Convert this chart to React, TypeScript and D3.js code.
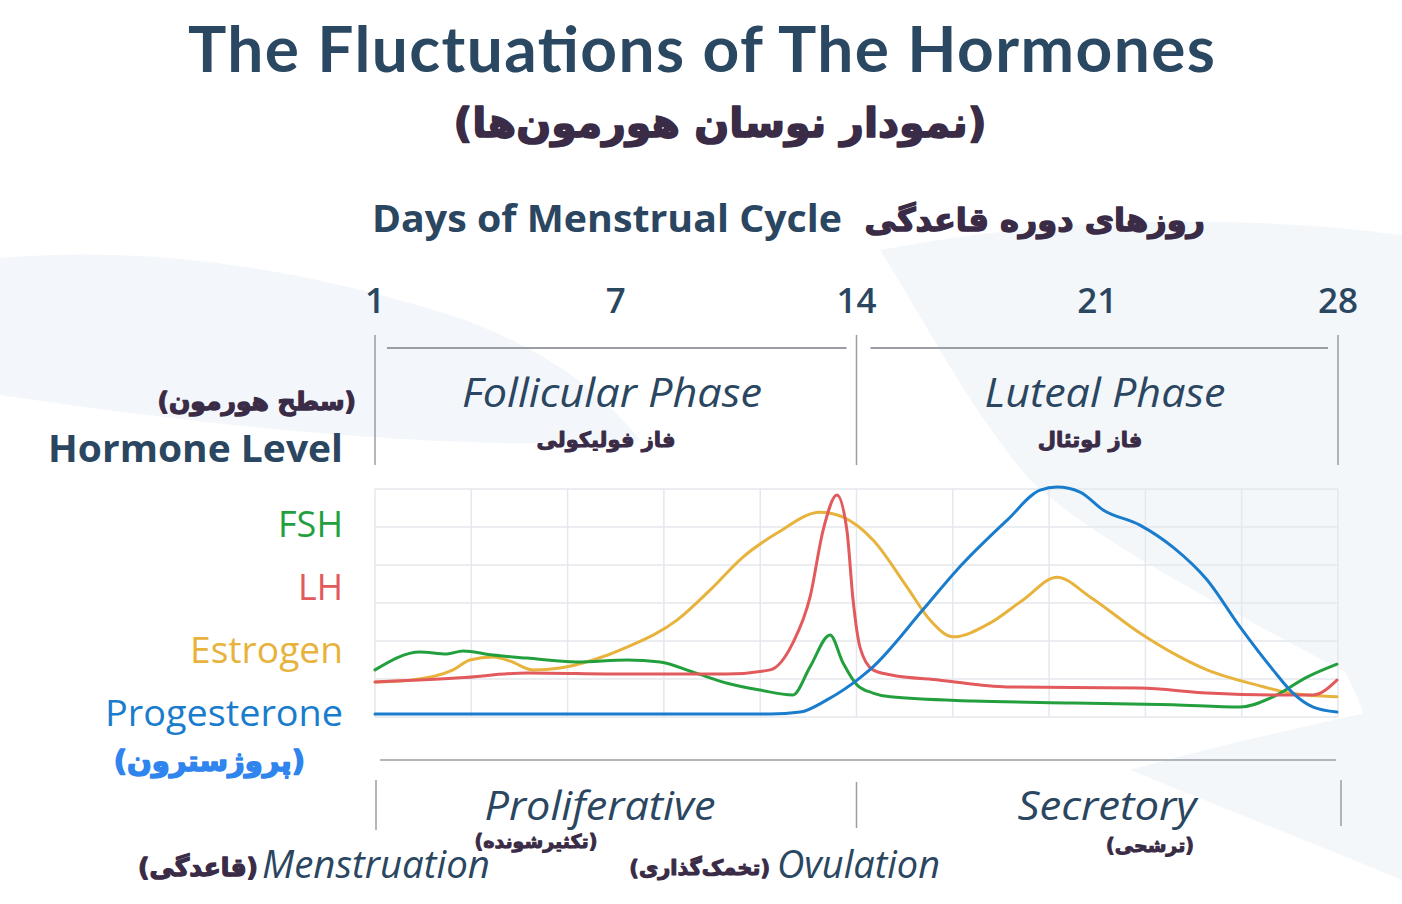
import React from "react";
import * as d3 from "d3";

// ---- data ----
const dayTicks = [0, 7, 14, 21, 28];
const dayTickLabels = ["1", "7", "14", "21", "28"];
const gridCols = 10;
const levelTicks = [0, 1, 2, 3, 4, 5, 6];

// [day, level] pairs
const progesterone: [number, number][] = [
  [0, 0.08], [11.5, 0.08], [12.36, 0.13], [13.14, 0.45], [14.1, 1.03], [14.48, 1.32],
  [15.93, 2.82], [16.92, 3.87], [18.38, 5.18], [19.34, 5.97], [19.83, 6.05], [20.5, 5.92],
  [21.17, 5.45], [22.24, 5.05], [23.2, 4.47], [24.19, 3.61], [25.15, 2.37], [26.11, 1.24],
  [26.69, 0.63], [27.28, 0.26], [27.97, 0.13],
];
const estrogen: [number, number][] = [
  [0, 0.92], [1.02, 0.97], [2.27, 1.24], [2.76, 1.5], [3.43, 1.58], [3.93, 1.47],
  [4.59, 1.24], [5.38, 1.29], [6.34, 1.5], [7.33, 1.84], [8.78, 2.55], [9.74, 3.34],
  [10.7, 4.21], [11.69, 4.84], [12.94, 5.39], [13.61, 5.26], [14.48, 4.66], [15.47, 3.42],
  [16.14, 2.55], [16.81, 2.11], [17.88, 2.47], [18.84, 3.08], [19.83, 3.68], [20.79, 3.16],
  [22.24, 2.21], [23.2, 1.68], [24.19, 1.24], [25.65, 0.84], [26.61, 0.63], [27.97, 0.53],
];
const lh: [number, number][] = [
  [0, 0.92], [2.47, 1.03], [4.42, 1.16], [7.33, 1.13], [10.24, 1.13], [11.49, 1.24],
  [12.15, 1.95], [12.65, 3.16], [13.03, 4.92], [13.43, 5.84], [13.72, 4.92], [13.9, 3.08],
  [14.1, 1.84], [14.48, 1.24], [14.98, 1.11], [16.43, 0.97], [18.38, 0.79], [22.24, 0.76],
  [24.19, 0.63], [26.11, 0.58], [27.28, 0.58], [27.97, 0.97],
];
const fsh: [number, number][] = [
  [0, 1.24], [1.31, 1.71], [2.09, 1.66], [2.56, 1.74], [3.43, 1.63], [4.42, 1.55],
  [5.87, 1.45], [7.33, 1.5], [8.29, 1.45], [9.25, 1.18], [10.24, 0.89], [11.19, 0.71],
  [12.15, 0.58], [12.65, 1.32], [13.23, 2.16], [13.61, 1.42], [14.02, 0.84], [14.48, 0.63],
  [14.98, 0.53], [17.39, 0.42], [20.3, 0.37], [23.2, 0.32], [25.15, 0.26], [26.11, 0.53],
  [27.1, 1.05], [27.97, 1.39],
];

const seriesNames = ["FSH", "LH", "Estrogen", "Progesterone"];
const seriesColors = ["#23a03d", "#e25a5c", "#e8b33c", "#1a7ccd"];
const seriesLabelWidths = [65, 45, 153, 238];

const LATIN = "'Open Sans', 'Noto Sans', sans-serif";
const PERSIAN = "'DejaVu Sans', sans-serif";
const DARK = "#2a4660";
const PURPLE = "#3a2b46";
const LINE = "#9a9ea4";

function Fa(props: any) {
  const { color = PURPLE, sw = 1, children, ...rest } = props;
  return (
    <text fontFamily={PERSIAN} fontWeight={700} fill={color} stroke={color} strokeWidth={sw}
      strokeLinejoin="round" {...rest}>{children}</text>
  );
}

export default function App() {
  const W = 1402, H = 904;
  const x = d3.scaleLinear().domain([0, 28]).range([375, 1338]);
  const y = d3.scaleLinear().domain([0, 6]).range([717, 489]);
  const line = d3
    .line<[number, number]>()
    .x((d) => x(d[0]))
    .y((d) => y(d[1]))
    .curve(d3.curveMonotoneX);
  const colTicks = d3.range(gridCols + 1).map((i) => (i * 28) / gridCols);
  const drawOrder: [[number, number][], number][] = [
    [estrogen, 2], [fsh, 0], [lh, 1], [progesterone, 3],
  ];

  return (
    <svg width={W} height={H} style={{ position: "absolute", left: 0, top: 0, display: "block" }}>
      <rect width={W} height={H} fill="#ffffff" />
      {/* soft background waves */}
      <path d="M0,258 C150,245 300,268 450,315 C540,345 600,390 640,440 C520,450 300,440 0,395 Z"
        fill="#f0f4f9" opacity={0.8} />
      <path d="M880,250 C1060,215 1250,215 1402,235 L1402,870 C1385,790 1372,720 1345,672 C1230,610 1100,545 1030,480 C970,410 930,330 880,250 Z"
        fill="#f3f6fa" opacity={0.9} />
      <path d="M1130,770 C1220,745 1310,725 1402,705 L1402,880 C1330,850 1240,815 1130,770 Z"
        fill="#f3f6fa" opacity={0.9} />

      {/* titles */}
      <text x={188} y={72} fontFamily="Lato, 'Open Sans', sans-serif" fontWeight={700} fontSize={64}
        fill="#2b4862" textLength={1027} lengthAdjust="spacing">The Fluctuations of The Hormones</text>
      <Fa x={720} y={137} textAnchor="middle" fontSize={41} sw={1.6}>(نمودار نوسان هورمون‌ها)</Fa>

      <text x={372} y={232} fontFamily={LATIN} fontWeight={700} fontSize={38} fill={DARK}
        textLength={470} lengthAdjust="spacingAndGlyphs">Days of Menstrual Cycle</text>
      <Fa x={1205} y={231} textAnchor="end" fontSize={32} sw={1.4}>روزهای دوره قاعدگی</Fa>

      {/* day ticks */}
      {dayTicks.map((d, i) => (
        <text key={d} x={x(d)} y={313} textAnchor="middle" fontFamily={LATIN} fontWeight={600}
          fontSize={35} fill={DARK}>{dayTickLabels[i]}</text>
      ))}

      {/* phase brackets */}
      {[0, 14, 28].map((d) => (
        <line key={"tv" + d} x1={x(d)} x2={x(d)} y1={335} y2={465} stroke={LINE} strokeWidth={1.5} />
      ))}
      <line x1={x(0) + 12} x2={x(14) - 10} y1={348} y2={348} stroke={LINE} strokeWidth={2} />
      <line x1={x(14) + 14} x2={x(28) - 10} y1={348} y2={348} stroke={LINE} strokeWidth={2} />
      <text x={612} y={407} textAnchor="middle" fontFamily={LATIN} fontStyle="italic" fontSize={40}
        fill={DARK} textLength={300} lengthAdjust="spacingAndGlyphs">Follicular Phase</text>
      <Fa x={606} y={447} textAnchor="middle" fontSize={21} sw={1}>فاز فولیکولی</Fa>
      <text x={1105} y={407} textAnchor="middle" fontFamily={LATIN} fontStyle="italic" fontSize={40}
        fill={DARK} textLength={241} lengthAdjust="spacingAndGlyphs">Luteal Phase</text>
      <Fa x={1090} y={447} textAnchor="middle" fontSize={21} sw={1}>فاز لوتئال</Fa>

      {/* left labels */}
      <Fa x={356} y={410} textAnchor="end" fontSize={25} sw={1.3}>(سطح هورمون)</Fa>
      <text x={343} y={462} textAnchor="end" fontFamily={LATIN} fontWeight={700} fontSize={38}
        fill={DARK} textLength={295} lengthAdjust="spacingAndGlyphs">Hormone Level</text>
      {seriesNames.map((n, i) => (
        <text key={n} x={343} y={537 + i * 63} textAnchor="end" fontFamily={LATIN} fontWeight={500}
          fontSize={37} fill={seriesColors[i]} textLength={seriesLabelWidths[i]}
          lengthAdjust="spacingAndGlyphs">{n}</text>
      ))}
      <Fa x={305} y={771} textAnchor="end" fontSize={29} sw={1.5} color="#2f84ee">(پروژسترون)</Fa>

      {/* grid */}
      {levelTicks.map((v) => (
        <line key={"h" + v} x1={x(0)} x2={x(28)} y1={y(v)} y2={y(v)} stroke="#e4e7ec" strokeWidth={1.5} />
      ))}
      {colTicks.map((d) => (
        <line key={"v" + d} x1={x(d)} x2={x(d)} y1={y(6)} y2={y(0)} stroke="#e4e7ec" strokeWidth={1.5} />
      ))}

      {/* hormone curves */}
      {drawOrder.map(([data, ci]) => (
        <path key={ci} d={line(data) || ""} fill="none" stroke={seriesColors[ci]} strokeWidth={3}
          strokeLinecap="round" strokeLinejoin="round" />
      ))}

      {/* bottom brackets */}
      <line x1={x(0) + 5} x2={x(28) - 2} y1={760} y2={760} stroke={LINE} strokeWidth={1.5} />
      <line x1={x(0) + 1} x2={x(0) + 1} y1={780} y2={830} stroke={LINE} strokeWidth={1.5} />
      <line x1={x(14)} x2={x(14)} y1={782} y2={828} stroke={LINE} strokeWidth={1.5} />
      <line x1={x(28) + 3} x2={x(28) + 3} y1={780} y2={826} stroke={LINE} strokeWidth={1.5} />

      <text x={600} y={820} textAnchor="middle" fontFamily={LATIN} fontStyle="italic" fontSize={40}
        fill={DARK} textLength={231} lengthAdjust="spacingAndGlyphs">Proliferative</text>
      <text x={1107} y={820} textAnchor="middle" fontFamily={LATIN} fontStyle="italic" fontSize={40}
        fill={DARK} textLength={179} lengthAdjust="spacingAndGlyphs">Secretory</text>
      <Fa x={536} y={848} textAnchor="middle" fontSize={19} sw={1}>(تکثیرشونده)</Fa>
      <Fa x={1150} y={852} textAnchor="middle" fontSize={19} sw={1}>(ترشحی)</Fa>

      <text x={262} y={878} fontFamily={LATIN} fontStyle="italic" fontSize={38} fill={DARK}
        textLength={228} lengthAdjust="spacingAndGlyphs">Menstruation</text>
      <Fa x={258} y={876} textAnchor="end" fontSize={25} sw={1.3}>(قاعدگی)</Fa>
      <text x={777} y={878} fontFamily={LATIN} fontStyle="italic" fontSize={38} fill={DARK}
        textLength={163} lengthAdjust="spacingAndGlyphs">Ovulation</text>
      <Fa x={770} y={875} textAnchor="end" fontSize={21} sw={1.1}>(تخمک‌گذاری)</Fa>
    </svg>
  );
}
